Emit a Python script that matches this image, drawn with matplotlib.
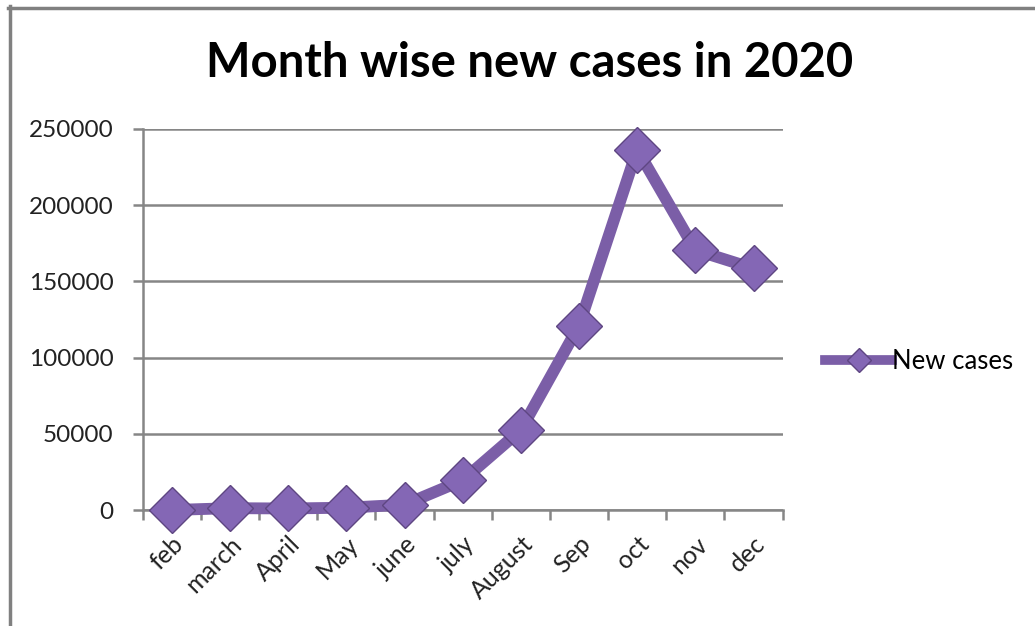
import matplotlib.pyplot as plt
from matplotlib.lines import Line2D

months = ['feb', 'march', 'April', 'May', 'june', 'july', 'August', 'Sep', 'oct', 'nov', 'dec']
new_cases = [0, 1200, 1000, 1500, 3500, 19500, 52500, 121000, 236500, 170500, 158500]
yticks = [0, 50000, 100000, 150000, 200000, 250000]

purple = '#7B5EA7'
grey = '#868686'

plt.rcParams['font.family'] = ['Lato', 'DejaVu Sans']

fig = plt.figure(figsize=(10.35, 6.26), dpi=100)
ax = fig.add_axes([0.1379, 0.1853, 0.6183, 0.6087])

x = list(range(len(months)))
ax.plot(x, new_cases, color=purple, lw=8.5, marker='D', markersize=23,
        markerfacecolor='#8467B5', markeredgecolor='#5E4682', markeredgewidth=1,
        solid_joinstyle='miter', label='New cases', zorder=3, clip_on=False)

ax.set_xlim(-0.5, len(months) - 0.5)
ax.set_ylim(0, 250000)
ax.set_yticks(yticks)
ax.set_yticklabels([str(v) for v in yticks], fontsize=17.5, color='#222222')
ax.set_xticks(x)
ax.set_xticklabels(months, rotation=45, ha='right', rotation_mode='anchor', fontsize=18, color='#222222')
ax.tick_params(axis='x', length=0, pad=16)
ax.set_xticks([i - 0.5 for i in range(len(months) + 1)], minor=True)
ax.tick_params(axis='x', which='minor', length=7, width=1.8, color=grey, direction='out')
ax.tick_params(axis='y', length=7, width=1.8, color=grey, direction='out', pad=14)

ax.grid(axis='y', color=grey, lw=1.8)
ax.set_axisbelow(True)
for s in ['top', 'right']:
    ax.spines[s].set_visible(False)
for s in ['left', 'bottom']:
    ax.spines[s].set_color(grey)
    ax.spines[s].set_linewidth(1.8)

fig.text(0.512, 0.9, 'Month wise new cases in 2020', fontsize=34, fontweight='bold',
         ha='center', va='center')

handle = Line2D([], [], color=purple, lw=7, marker='D', markersize=12,
                markerfacecolor='#8467B5', markeredgecolor='#5E4682', markeredgewidth=1)
fig.legend([handle], ['New cases'], loc='center left', bbox_to_anchor=(0.775, 0.422),
           frameon=False, fontsize=18.5, handlelength=2.6, handletextpad=0.0)

# outer frame (top and left edges only visible in the crop)
fig.add_artist(Line2D([8 / 1035, 1], [1 - 7.5 / 626, 1 - 7.5 / 626], color='#808080', lw=2.5, transform=fig.transFigure))
fig.add_artist(Line2D([9.5 / 1035, 9.5 / 1035], [0, 1 - 6 / 626], color='#808080', lw=2.5, transform=fig.transFigure))

fig.savefig('out.png', dpi=100)
